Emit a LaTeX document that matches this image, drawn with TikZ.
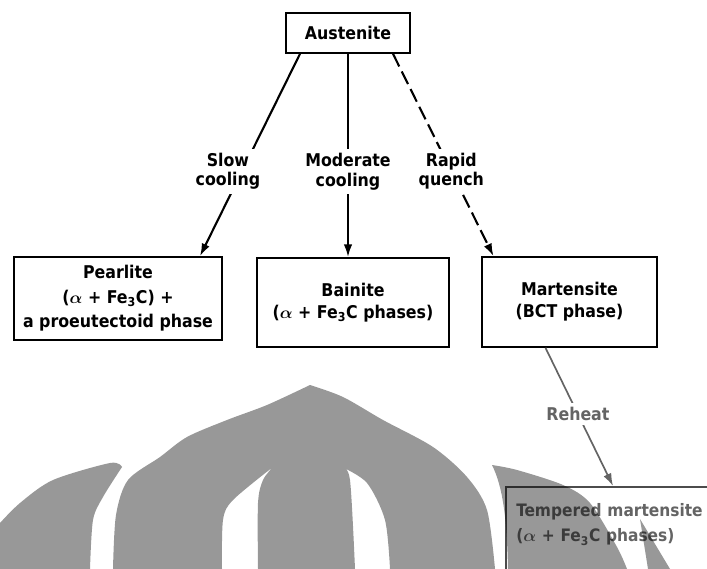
\documentclass[tikz,border=0pt]{standalone}
\usepackage{bm}
\usepackage{fontspec}
\setmainfont{DejaVu Sans Condensed}[UprightFont={* Bold}]
\usetikzlibrary{arrows.meta,calc}
\definecolor{wmgray}{RGB}{152,152,152}
\definecolor{reheatgray}{RGB}{100,100,100}

\begin{document}
\begin{tikzpicture}[x=0.025cm,y=-0.025cm,
		phasebox/.style={rectangle, draw, line width=1.2pt, align=center, font=\fontsize{12.5}{15.5}\selectfont},
		lbl/.style={fill=white, inner sep=3pt, align=center, font=\fontsize{12.5}{14}\selectfont},
		cool/.style={line width=1.5pt, -{Latex[length=9pt,width=6pt]}}]
	\useasboundingbox (0,0) rectangle (707,569);
	\clip (0,0) rectangle (707,569);

	% Austenite box
	\node[phasebox, minimum width=3.1cm, minimum height=1.0cm] (aus) at (348,33) {Austenite};

	% Products of cooling
	\node[phasebox, minimum width=5.2cm, minimum height=2.075cm, font=\fontsize{12.5}{17.5}\selectfont] (pear) at (118,298.5)
		{Pearlite\\($\bm{\alpha}$ + Fe\textsubscript{3}C) +\\a proeutectoid phase};
	\node[phasebox, minimum width=4.8cm, minimum height=2.225cm] (bain) at (353,302.5)
		{Bainite\\($\bm{\alpha}$ + Fe\textsubscript{3}C phases)};
	\node[phasebox, minimum width=4.375cm, minimum height=2.25cm] (mart) at (569.5,302)
		{Martensite\\(BCT phase)};

	% Tempered martensite, runs off the page
	\node[rectangle, draw=black!70, line width=1.2pt, anchor=north west, text width=5.0cm, align=left,
		inner xsep=0.26cm, inner ysep=0.42cm, text depth=1.5cm, text=reheatgray, font=\fontsize{12.2}{18}\selectfont] (temp) at (505,486)
		{Tempered martensite\\($\bm{\alpha}$ + Fe\textsubscript{3}C phases)};

	% Cooling paths
	\draw[cool] ($(aus.south)+(-48,0)$) -- node[lbl, pos=0.58, xshift=-10pt] {Slow\\cooling} ($(pear.north)+(82,0)$);
	\draw[cool] (aus.south) -- node[lbl, pos=0.58] {Moderate\\cooling} (aus.south |- bain.north);
	\draw[cool, dash pattern=on 10pt off 4pt] ($(aus.south)+(45,0)$) -- node[lbl, pos=0.58] {Rapid\\quench} ($(mart.north)+(-76,0)$);

	% Reheat
	\draw[cool, reheatgray, line width=1.2pt] ($(mart.south)+(-24,0)$) -- node[lbl, pos=0.48, text=reheatgray] {Reheat} ($(temp.north west)+(108,0)$);

	% Watermark over the lower part
	\begin{scope}[blend mode=multiply]
		\fill[wmgray, even odd rule]
			plot[smooth] coordinates {(113,569) (116,515) (128,480) (160,457) (187,437) (227,420) (267,405) (310,385)}
			-- plot[smooth] coordinates {(310,385) (343,397) (383,420) (433,447) (467,477) (487,510) (495,569)} -- cycle
			plot[smooth] coordinates {(222,569) (223,520) (233,500) (273,467)}
			-- plot[smooth] coordinates {(273,467) (263,480) (258,503) (258,569)} -- cycle
			plot[smooth] coordinates {(390,569) (385,520) (367,483) (342,467)}
			-- plot[smooth] coordinates {(342,467) (350,480) (355,569)} -- cycle;
		\fill[wmgray] plot[smooth] coordinates {(0,523) (20,503) (53,480) (110,463) (122,467)}
			-- plot[smooth] coordinates {(122,467) (103,497) (93,520) (90,569)} -- (0,569) -- cycle;
		\fill[wmgray] plot[smooth] coordinates {(492,465) (517,470) (563,485) (590,503) (617,547) (627,569)}
			-- (508,569) .. controls (507,520) and (503,487) .. (492,465) -- cycle;
		\fill[wmgray] (640,519) -- (670,569) -- (648,569) -- cycle;
	\end{scope}
\end{tikzpicture}
\end{document}
